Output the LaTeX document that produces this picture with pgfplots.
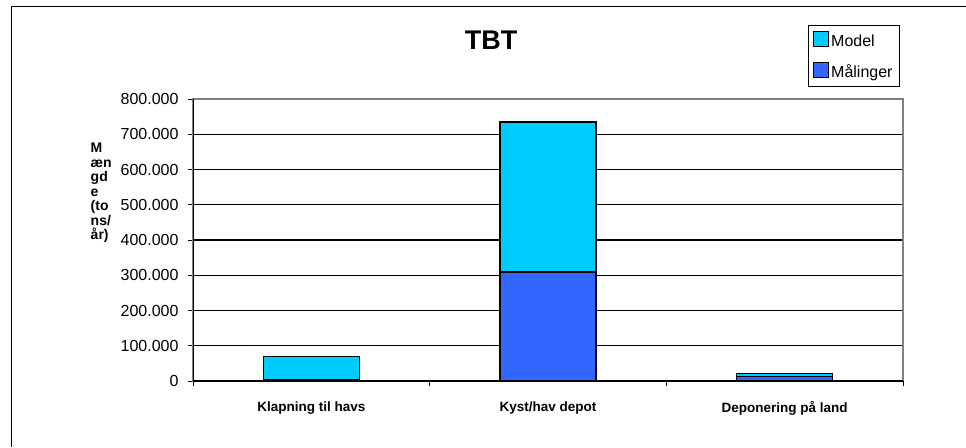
\documentclass[border=0pt]{standalone}
\usepackage{pgfplots}
\pgfplotsset{compat=1.18}
\usepackage{fontspec}
\setmainfont{Liberation Sans}
\definecolor{modelc}{HTML}{00CCFF}
\definecolor{maalc}{HTML}{3366FF}
\begin{document}
\begin{tikzpicture}
\useasboundingbox (0,0) rectangle (966pt,-447pt);
\begin{axis}[
  at={(193pt,-381pt)}, anchor=south west,
  scale only axis, width=710pt, height=282pt,
  ybar stacked, bar width=96pt,
  xmin=-0.5, xmax=2.5, ymin=0, ymax=800000,
  xtick={0,1,2},
  xticklabels={Klapning til havs,Kyst/hav depot,Deponering på land},
  xtick pos=bottom, ytick pos=left,
  x tick style={draw=none},
  extra x ticks={-0.5,0.5,1.5,2.5},
  extra x tick labels={},
  extra x tick style={xtick pos=bottom, tick align=outside, major tick length=5pt, x tick style={draw=black, line width=1pt}, grid=none},
  xticklabel style={font=\fontsize{13.5}{15}\selectfont\bfseries, yshift=-12pt},
  ytick={0,100000,...,800000},
  scaled y ticks=false,
  yticklabel style={font=\fontsize{16}{18}\selectfont, xshift=-6pt, /pgf/number format/.cd, fixed, 1000 sep={.}, assume math mode=true},
  y tick style={draw=black, line width=1pt},
  tick align=outside, major tick length=5pt,
  ymajorgrids, major grid style={black, line width=1.2pt},
  axis line style={draw=gray, line width=1.5pt},
  title={TBT},
  title style={at={(0.42,1)}, anchor=base, yshift=44pt, font=\fontsize{27}{30}\selectfont\bfseries},
  ylabel={M\\æn\\gd\\e\\(to\\ns/\\år)},
  ylabel style={rotate=-90, align=left, font=\fontsize{14}{14.5}\selectfont\bfseries, at={(axis description cs:-0.149,0.667)}, anchor=west},
  legend style={at={(axis description cs:0.996,1.262)}, anchor=north east, draw=black, line width=1.2pt, font=\fontsize{16}{18}\selectfont, row sep=12pt, inner xsep=5pt, inner ysep=5pt, cells={anchor=west}},
  legend image code/.code={\draw[#1, draw=black, line width=1pt] (0pt,-5pt) rectangle (15pt,10pt);},
  reverse legend,
  every axis plot/.append style={draw=black, line width=1.3pt},
]
\addplot[fill=maalc] coordinates {(0,3000) (1,309000) (2,12000)};
\addlegendentry{Målinger}
\addplot[fill=modelc] coordinates {(0,66000) (1,426000) (2,10000)};
\addlegendentry{Model}
\draw[black, line width=1.5pt] (rel axis cs:0,0) -- (rel axis cs:0,1);
\draw[black, line width=2pt] (rel axis cs:0,0) -- (rel axis cs:1,0);
\end{axis}
\draw[black, line width=1pt] (11pt,-447pt) -- (11pt,-6pt) -- (966pt,-6pt);
\end{tikzpicture}
\end{document}
